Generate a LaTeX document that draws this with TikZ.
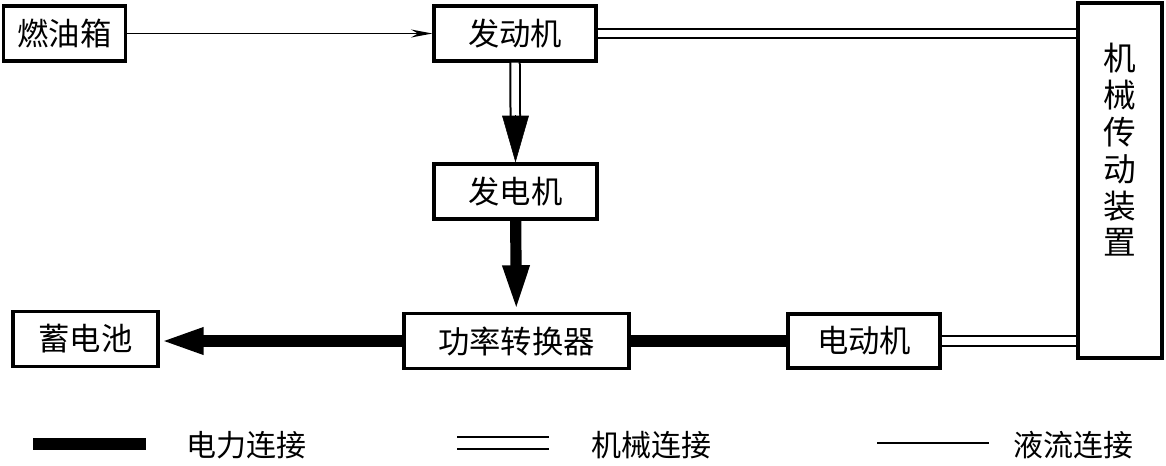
\documentclass[tikz,border=0pt]{standalone}
\usepackage{fontspec}
\setmainfont{Noto Sans CJK SC}
\usetikzlibrary{arrows.meta,calc}
\begin{document}
\begin{tikzpicture}[x=0.75pt,y=-0.75pt,
  box/.style={draw, line width=2.4pt, inner sep=0pt, font=\fontsize{23.5}{28}\selectfont},
  lbl/.style={inner sep=0pt, font=\fontsize{22.5}{28}\selectfont},
  elec/.style={line width=8.4pt},
  mech/.style={double, double distance=5.6pt, line width=1.5pt},
  fluid/.style={line width=1.2pt},
]
\useasboundingbox (0,0) rectangle (1166,465);
% boxes
\node[box, minimum width=91.5pt, minimum height=41.25pt] (tank) at (64.5,33.5) {燃油箱};
\node[box, minimum width=121.5pt, minimum height=41.25pt] (engine) at (515,33.5) {发动机};
\node[box, minimum width=122.25pt, minimum height=41.25pt] (gen) at (515.5,191.5) {发电机};
\node[box, minimum width=168.75pt, minimum height=41.25pt] (conv) at (516.5,341) {功率转换器};
\node[box, minimum width=108.75pt, minimum height=41.25pt] (batt) at (85.5,339) {蓄电池};
\node[box, minimum width=114pt, minimum height=40.5pt] (motor) at (864,341) {电动机};
\node[box, minimum width=63pt, minimum height=266.25pt] (mechdev) at (1120,180.5) {};
\node[lbl, align=center, font=\fontsize{24.5}{27.6}\selectfont] (mdlabel) at (1120,150) {机\\械\\传\\动\\装\\置};
% connectors
\draw[fluid, -{Stealth[length=16pt 0,width=6pt 0]}] (tank) -- (engine);
\draw[mech] (engine.east) -- (engine.east -| mechdev.west);
\draw[mech] (motor.east) -- (motor.east -| mechdev.west);
\draw[mech, shorten >=34.5pt] (engine.south) -- (gen.north);
\coordinate (tipbase) at ($(gen.north)+(0,-47)$);
\draw[line width=0.4pt, -{Triangle[length=35pt 0,width=20pt 0]}] (tipbase) -- (gen.north);
\draw[elec, -{Triangle[length=35pt 0,width=18pt 0]}] (gen) -- (conv);
\draw[elec, -{Triangle[length=33pt 0,width=18pt 0]}] (conv.west) -- (conv.west -| batt.east);
\draw[elec] (conv.east) -- (motor.west);
% legend
\coordinate (e1) at (33,444);
\coordinate (e2) at (146,444);
\draw[line width=9.5pt] (e1) -- (e2);
\node[lbl] (le) at (246,445) {电力连接};
\coordinate (m1) at (457,443);
\coordinate (m2) at (549,443);
\draw[mech, double distance=7pt] (m1) -- (m2);
\node[lbl] (lm) at (651,445) {机械连接};
\coordinate (f1) at (877,443);
\coordinate (f2) at (989,443);
\draw[fluid] (f1) -- (f2);
\node[lbl] (lf) at (1073,445) {液流连接};
\end{tikzpicture}
\end{document}
